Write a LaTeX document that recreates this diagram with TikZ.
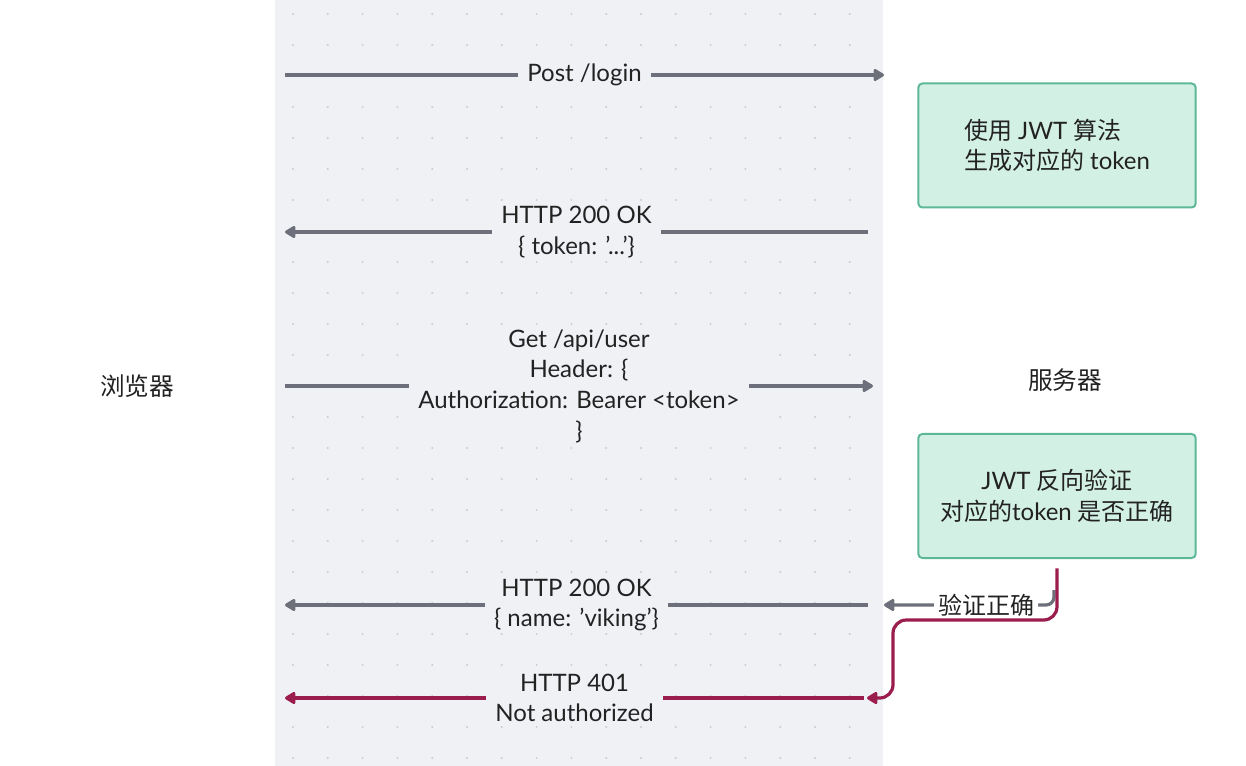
\documentclass[tikz,border=0pt]{standalone}
\usepackage{fontspec}
\setmainfont{Lato}
\newfontfamily\zhfont{Noto Sans CJK SC}
\newcommand{\zh}[1]{{\zhfont #1}}
\usetikzlibrary{positioning, arrows.meta}
\definecolor{bandgrey}{HTML}{EFF1F5}
\definecolor{dotgrey}{HTML}{C9CCD4}
\definecolor{linegrey}{HTML}{6D707A}
\definecolor{failred}{HTML}{9A1D4E}
\definecolor{boxfill}{HTML}{D3F0E5}
\definecolor{boxgreen}{HTML}{5DB897}
\definecolor{inkgrey}{HTML}{222222}

\begin{document}
\begin{tikzpicture}[x=0.75pt, y=-0.75pt, font=\fontsize{18pt}{23pt}\selectfont, text=inkgrey,
		msg/.style={draw=linegrey, line width=2.4pt, -{Triangle[length=9pt,width=10pt,round]}},
		fail/.style={msg, draw=failred},
		lbl/.style={fill=bandgrey, inner xsep=7pt, inner ysep=1pt, align=center},
		calcbox/.style={draw=boxgreen, fill=boxfill, line width=1.5pt, rounded corners=3pt, minimum width=208pt, minimum height=93pt},
		side/.style={font=\fontsize{18.5pt}{22pt}\zhfont}]
	\useasboundingbox (0,0) rectangle (1246,766);
	\fill[white] (0,0) rectangle (1246,766);
	\fill[bandgrey] (275,0) rectangle (883,766);
	\foreach \i in {0,...,16}
		\foreach \j in {0,...,24}
			\fill[dotgrey] (293+\i*34.8, 14+\j*31) circle (0.8pt);

	\node[side] (browser) at (137,386) {浏览器};
	\node[side] (server) at (1065,380) {服务器};
	\node[calcbox, align=left] (gen) at (1057,145.5) {\zh{使用} JWT \zh{算法}\\\zh{生成对应的} token};
	\node[calcbox, align=center] (verify) at (1057,496) {JWT \zh{反向验证}\\\zh{对应的}token \zh{是否正确}};

	\coordinate (b1) at (285,75);  \coordinate (s1) at (884,75);
	\coordinate (s2) at (868,232); \coordinate (b2) at (285,232);
	\coordinate (b3) at (285,386); \coordinate (s3) at (873,386);
	\coordinate (s4) at (868,605); \coordinate (b4) at (285,605);
	\coordinate (s5) at (864,698); \coordinate (b5) at (285,698);
	\coordinate (ok) at (1054,590); \coordinate (okend) at (884,605);
	\coordinate (bend1) at (1057,620); \coordinate (bend2) at (893,620);
	\coordinate (bend3) at (893,698); \coordinate (failend) at (867,698);

	\draw[msg] (b1) -- node[lbl] {Post /login} (s1);
	\draw[msg] (s2) -- node[lbl] {HTTP 200 OK\\\{ token: '...'\}} (b2);
	\draw[msg] (b3) -- node[lbl] {Get /api/user\\Header: \{\\Authorization: Bearer <token>\\\}} (s3);
	\draw[msg] (s4) -- node[lbl] {HTTP 200 OK\\\{ name: 'viking'\}} (b4);
	\draw[fail] (s5) -- node[lbl] {HTTP 401\\Not authorized} (b5);
	\draw[msg, rounded corners=6pt] (ok) |- node[pos=0.7, fill=white, inner xsep=3pt, inner ysep=1pt] {\zh{验证正确}} (okend);
	\draw[fail, rounded corners=10pt] ([yshift=-7pt]verify.south) -- (bend1) -- (bend2) -- (bend3) -- (failend);
\end{tikzpicture}
\end{document}
